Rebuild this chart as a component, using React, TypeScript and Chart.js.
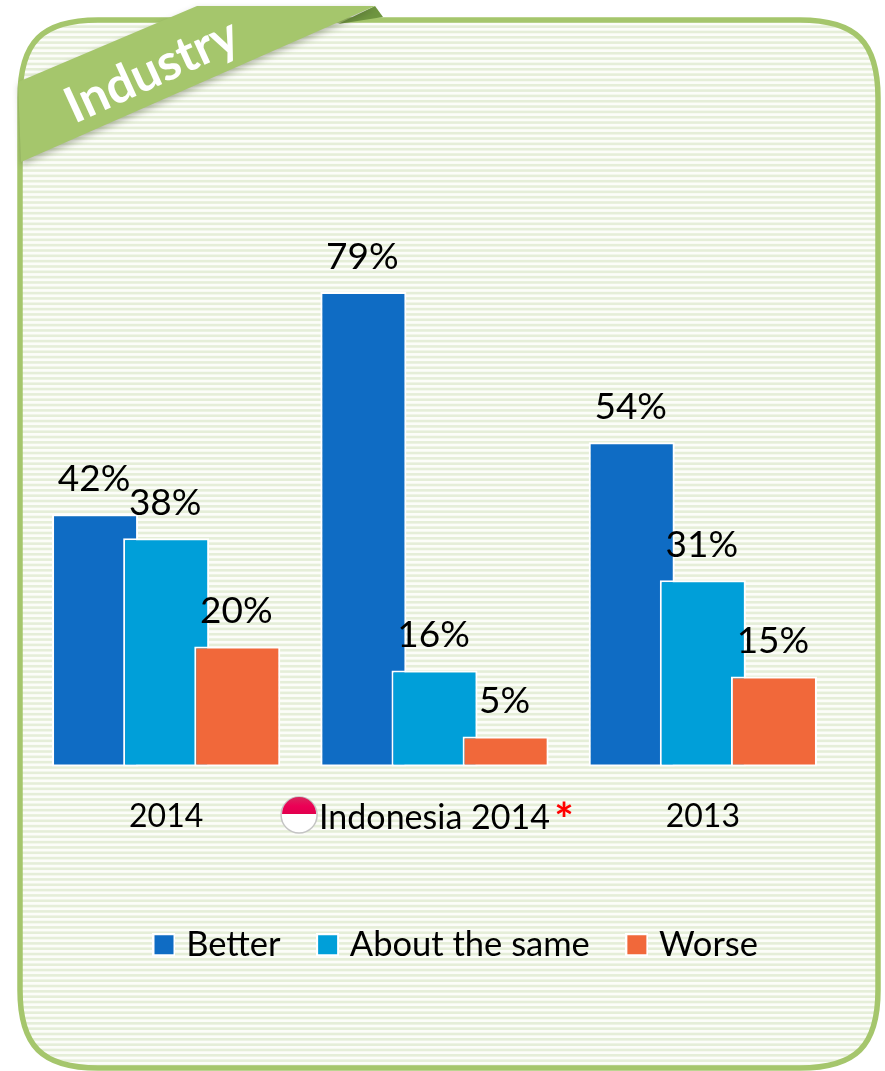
import React, { useEffect, useRef } from "react";
import { Chart, registerables } from "chart.js";

Chart.register(...registerables);

const categories = ["2014", "Indonesia 2014", "2013"];
const better = [42, 79, 54];
const aboutTheSame = [38, 16, 31];
const worse = [20, 5, 15];

const FONT = "Lato";
const GREEN = "#a5c66c";
const BLUE = "#0f6cc4";
const CYAN = "#009fd9";
const ORANGE = "#f1683a";

function panelPath(ctx: CanvasRenderingContext2D) {
  const l = 20, t = 20, r = 878, b = 1068, rad = 78, k = 22;
  ctx.beginPath();
  ctx.moveTo(l + rad, t);
  ctx.lineTo(r - rad, t);
  ctx.bezierCurveTo(r - k, t, r, t + k, r, t + rad);
  ctx.lineTo(r, b - rad);
  ctx.bezierCurveTo(r, b - k, r - k, b, r - rad, b);
  ctx.lineTo(l + rad, b);
  ctx.bezierCurveTo(l + k, b, l, b - k, l, b - rad);
  ctx.lineTo(l, t + rad);
  ctx.bezierCurveTo(l, t + k, l + k, t, l + rad, t);
  ctx.closePath();
}

// White-framed square used as a legend marker.
function legendSwatch(color: string) {
  const c = document.createElement("canvas");
  c.width = 23;
  c.height = 23;
  const g = c.getContext("2d")!;
  g.fillStyle = "#ffffff";
  g.fillRect(0, 0, 23, 23);
  g.fillStyle = color;
  g.fillRect(2, 2, 19, 19);
  return c;
}

// Striped card with its rounded green outline and the corner ribbon.
const cardPlugin = {
  id: "card",
  beforeDraw(chart: Chart) {
    const ctx = chart.ctx;
    ctx.save();
    ctx.fillStyle = "#ffffff";
    ctx.fillRect(0, 0, chart.width, chart.height);

    panelPath(ctx);
    ctx.save();
    ctx.clip();
    ctx.fillStyle = "#fcfdf9";
    ctx.fillRect(0, 0, chart.width, chart.height);
    ctx.fillStyle = "#e5eed8";
    for (let y = 20; y < 1071; y += 5.33) ctx.fillRect(0, y, chart.width, 2.6);
    ctx.restore();

    panelPath(ctx);
    ctx.lineWidth = 5.5;
    ctx.strokeStyle = GREEN;
    ctx.stroke();

    // Fold behind the ribbon
    ctx.beginPath();
    ctx.moveTo(375, 6);
    ctx.lineTo(383, 17);
    ctx.lineTo(338, 24);
    ctx.closePath();
    ctx.fillStyle = "#6f9640";
    ctx.fill();

    // Ribbon
    ctx.save();
    ctx.shadowColor = "rgba(60,70,40,0.35)";
    ctx.shadowBlur = 6;
    ctx.shadowOffsetX = 1;
    ctx.shadowOffsetY = 3;
    ctx.beginPath();
    ctx.moveTo(197, 6);
    ctx.lineTo(375, 6);
    ctx.lineTo(21, 162);
    ctx.lineTo(18, 82);
    ctx.closePath();
    ctx.fillStyle = GREEN;
    ctx.fill();
    ctx.restore();

    ctx.translate(152, 71);
    ctx.rotate((-24.5 * Math.PI) / 180);
    ctx.font = `bold 50px ${FONT}`;
    ctx.fillStyle = "#ffffff";
    ctx.textAlign = "center";
    ctx.textBaseline = "middle";
    ctx.fillText("Industry", 0, 0);
    ctx.restore();
  },
};

// The legend row sits right of the plot's centre line.
const legendShiftPlugin = {
  id: "legendShift",
  afterLayout(chart: Chart) {
    chart.legend!.left += 24;
    chart.legend!.right += 24;
  },
};

// Bars overlap inside a group, so paint them first series to last.
const barLayeringPlugin = {
  id: "barLayering",
  beforeDatasetDraw() {
    return false;
  },
  afterDatasetsDraw(chart: Chart) {
    chart.data.datasets.forEach((_, i) => chart.getDatasetMeta(i).controller.draw());
  },
};

// Percentage over each bar.
const valueLabelPlugin = {
  id: "valueLabels",
  afterDatasetsDraw(chart: Chart) {
    const ctx = chart.ctx;
    ctx.save();
    ctx.font = `37px ${FONT}`;
    ctx.fillStyle = "#000000";
    ctx.textAlign = "center";
    ctx.textBaseline = "alphabetic";
    chart.data.datasets.forEach((ds, i) => {
      chart.getDatasetMeta(i).data.forEach((bar, j) => {
        ctx.fillText(`${ds.data[j]}%`, bar.x - 1, bar.y - 23);
      });
    });
    ctx.restore();
  },
};

// Flag badge and red asterisk either side of the Indonesia axis label.
const badgePlugin = {
  id: "badge",
  afterDraw(chart: Chart) {
    const ctx = chart.ctx;
    const cx = chart.scales.x.getPixelForValue(1);
    ctx.save();
    ctx.font = `34px ${FONT}`;
    const half = ctx.measureText(categories[1]).width / 2;
    const fx = cx - half - 20;
    const fy = 815;
    ctx.beginPath();
    ctx.arc(fx, fy, 18, 0, Math.PI * 2);
    ctx.fillStyle = "#ffffff";
    ctx.fill();
    ctx.lineWidth = 1.5;
    ctx.strokeStyle = "#c4c4c4";
    ctx.stroke();
    ctx.beginPath();
    ctx.arc(fx, fy - 1, 17, Math.PI, 0);
    ctx.closePath();
    const grad = ctx.createLinearGradient(0, fy - 18, 0, fy);
    grad.addColorStop(0, "#d8265c");
    grad.addColorStop(0.5, "#ec0056");
    grad.addColorStop(1, "#e0004c");
    ctx.fillStyle = grad;
    ctx.fill();

    ctx.font = `bold 46px ${FONT}`;
    ctx.fillStyle = "#ff0000";
    ctx.textAlign = "center";
    ctx.textBaseline = "alphabetic";
    ctx.fillText("*", cx + half + 14, 836);
    ctx.restore();
  },
};

export default function App() {
  const ref = useRef<HTMLCanvasElement>(null);

  useEffect(() => {
    document.body.style.margin = "0";
    const barStyle = { borderColor: "#ffffff", borderWidth: 2, borderSkipped: false };
    const swatches = [legendSwatch(BLUE), legendSwatch(CYAN), legendSwatch(ORANGE)];
    const chart = new Chart(ref.current!, {
      type: "bar",
      data: {
        labels: categories,
        datasets: [
          { label: "Better", data: better, backgroundColor: BLUE, ...barStyle },
          { label: "About the same", data: aboutTheSame, backgroundColor: CYAN, ...barStyle },
          { label: "Worse", data: worse, backgroundColor: ORANGE, ...barStyle },
        ],
      },
      options: {
        responsive: false,
        animation: false,
        layout: { padding: { top: 166, left: 32, right: 48, bottom: 99 } },
        datasets: { bar: { categoryPercentage: 0.795, barPercentage: 1.21 } },
        scales: {
          x: {
            grid: { display: false },
            border: { display: false },
            ticks: {
              color: "#000000",
              font: (c) => ({ family: FONT, size: c.index === 1 ? 34 : 32 }),
              padding: 23,
              maxRotation: 0,
            },
            afterFit(scale) {
              scale.height = 119;
            },
          },
          y: { display: false, min: 0, max: 100 },
        },
        plugins: {
          tooltip: { enabled: false },
          legend: {
            position: "bottom",
            labels: {
              usePointStyle: true,
              pointStyleWidth: 10,
              boxHeight: 22,
              padding: 42,
              color: "#000000",
              font: { family: FONT, size: 34.5 },
              generateLabels(c) {
                return Chart.defaults.plugins.legend.labels
                  .generateLabels(c)
                  .map((item, i) => ({ ...item, pointStyle: swatches[i] }));
              },
            },
          },
        },
      },
      plugins: [cardPlugin, legendShiftPlugin, barLayeringPlugin, valueLabelPlugin, badgePlugin],
    });
    return () => chart.destroy();
  }, []);

  return <canvas ref={ref} width={885} height={1071} style={{ display: "block" }} />;
}
